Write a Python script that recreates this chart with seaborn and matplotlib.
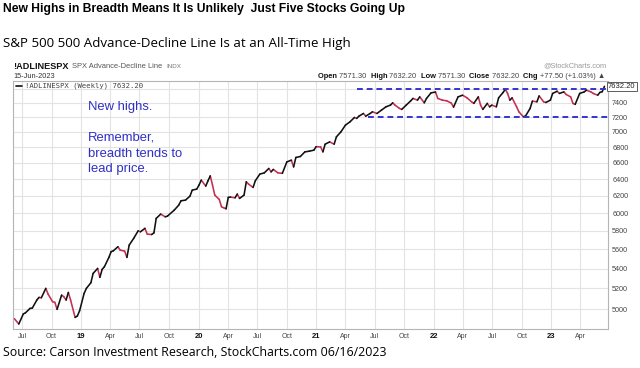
import numpy as np
import pandas as pd
import matplotlib
matplotlib.use('Agg')
import matplotlib.pyplot as plt
from matplotlib.lines import Line2D
from matplotlib.ticker import FixedLocator, NullLocator
import seaborn as sns

# Weekly !ADLINESPX readings: week number counted from the first bar, and the line value
start_date = '2018-06-07'
weeks = [0, 2, 4, 5, 7, 8, 10, 11, 12, 14,
         15, 17, 18, 19, 21, 22, 23, 24, 25, 27,
         28, 29, 31, 32, 34, 35, 37, 38, 39, 40,
         42, 43, 44, 46, 47, 49, 50, 51, 53, 55,
         56, 58, 59, 61, 62, 63, 65, 67, 68, 71,
         73, 74, 76, 78, 79, 81, 82, 83, 85, 86,
         87, 88, 89, 91, 92, 93, 94, 95, 96, 98,
         99, 100, 102, 103, 104, 106, 107, 109, 111, 113,
         114, 115, 117, 119, 121, 123, 124, 125, 127, 129,
         131, 133, 134, 136, 137, 138, 140, 142, 143, 145,
         147, 149, 151, 152, 153, 155, 156, 158, 159, 161,
         163, 165, 167, 168, 169, 171, 172, 174, 176, 177,
         179, 180, 182, 183, 185, 187, 188, 190, 192, 194,
         195, 197, 199, 201, 203, 204, 206, 207, 208, 210,
         211, 212, 214, 215, 217, 218, 219, 220, 221, 223,
         224, 226, 227, 229, 230, 232, 233, 235, 236, 238,
         239, 241, 242, 244, 245, 247, 248, 249, 251, 253,
         254, 256, 257, 259, 260, 261, 262]
values = [4910, 4860, 4953, 4965, 5006, 5009, 5086, 5112, 5108, 5200,
          5144, 5070, 5064, 4997, 5134, 5118, 5086, 5160, 5086, 4921,
          4934, 4984, 5151, 5200, 5256, 5350, 5401, 5310, 5391, 5418,
          5515, 5576, 5585, 5628, 5592, 5581, 5515, 5645, 5718, 5801,
          5790, 5828, 5765, 5760, 5779, 5939, 5988, 5957, 5965, 6033,
          6091, 6141, 6149, 6196, 6267, 6279, 6327, 6387, 6315, 6379,
          6439, 6327, 6208, 6157, 6071, 6060, 6048, 6181, 6185, 6176,
          6220, 6169, 6208, 6367, 6339, 6299, 6379, 6460, 6476, 6530,
          6488, 6518, 6476, 6470, 6612, 6634, 6549, 6668, 6680, 6739,
          6748, 6761, 6806, 6803, 6739, 6838, 6868, 6838, 6934, 7000,
          7090, 7134, 7194, 7181, 7212, 7249, 7212, 7249, 7272, 7249,
          7295, 7341, 7365, 7397, 7365, 7319, 7305, 7365, 7425, 7459,
          7435, 7481, 7397, 7459, 7538, 7550, 7459, 7435, 7425, 7393,
          7337, 7481, 7505, 7467, 7411, 7389, 7481, 7365, 7305, 7389,
          7341, 7365, 7341, 7467, 7544, 7591, 7530, 7435, 7467, 7341,
          7272, 7203, 7216, 7319, 7421, 7411, 7495, 7411, 7402, 7435,
          7530, 7562, 7530, 7552, 7515, 7481, 7389, 7375, 7530, 7552,
          7577, 7552, 7530, 7505, 7545, 7554.7, 7632.2]

last_value = 7632.20
y_ticks = [5000, 5200, 5400, 5600, 5800, 6000, 6200, 6400, 6600, 6800, 7000, 7200, 7400, 7600]
band_top, band_top_from = 7590, '2021-05-06'
band_bottom, band_bottom_from = 7200, '2021-06-10'

title = 'New Highs in Breadth Means It Is Unlikely  Just Five Stocks Going Up'
subtitle = 'S&P 500 500 Advance-Decline Line Is at an All-Time High'
source = 'Source: Carson Investment Research, StockCharts.com 06/16/2023'
note_lines = ['New highs.', 'Remember,', 'breadth tends to', 'lead price.']
quote = [('Open ', 'bold'), ('7571.30  ', 'normal'), ('High ', 'bold'), ('7632.20  ', 'normal'),
         ('Low ', 'bold'), ('7571.30  ', 'normal'), ('Close ', 'bold'), ('7632.20  ', 'normal'),
         ('Chg ', 'bold'), ('+77.50 (+1.03%) \u25b2', 'normal')]

W, H = 640, 368
UP, DOWN, BLUE = '#111111', '#c4304f', '#2f2fc6'

sns.set_theme(style='white')
plt.rcParams['font.family'] = ['Liberation Sans', 'DejaVu Sans']

df = pd.DataFrame({'date': pd.Timestamp(start_date) + pd.to_timedelta(np.array(weeks) * 7, unit='D'),
                   'value': values})

# split into 2-point segments coloured by weekly direction (StockCharts style)
rows = []
for i in range(len(df) - 1):
    d = 'up' if df.value[i + 1] > df.value[i] else 'down'
    for j in (i, i + 1):
        rows.append({'seg': i, 'date': df.date[j], 'value': df.value[j], 'dir': d})
segs = pd.DataFrame(rows)

fig = plt.figure(figsize=(W / 100, H / 100), dpi=100)
ax = fig.add_axes([13 / W, 1 - 329 / H, (608 - 13) / W, (329 - 81) / H])

sns.lineplot(data=segs, x='date', y='value', hue='dir', units='seg', estimator=None,
             palette={'up': UP, 'down': DOWN}, lw=1.15, legend=False, ax=ax,
             solid_capstyle='round')

x_left, x_right = pd.Timestamp('2018-06-03'), pd.Timestamp('2023-06-26')
ax.set_yscale('log')
ax.set_ylim(4814, 7710)
ax.set_xlim(x_left, x_right)

ax.hlines(band_top, pd.Timestamp(band_top_from), x_right, colors='#3535d0', lw=1.4,
          linestyles=(0, (3, 2)), zorder=5)
ax.hlines(band_bottom, pd.Timestamp(band_bottom_from), x_right, colors='#3535d0', lw=1.4,
          linestyles=(0, (3, 2)), zorder=5)

# axes cosmetics
ax.yaxis.tick_right()
ax.yaxis.set_major_locator(FixedLocator(y_ticks))
ax.yaxis.set_minor_locator(NullLocator())
ax.set_yticklabels([str(t) if t != 7600 else '' for t in y_ticks])
ax.tick_params(axis='y', length=0, pad=3, labelsize=5.2, labelcolor='#444444')

q_ticks = pd.date_range('2018-07-01', '2023-04-01', freq='QS')
q_labels = [d.strftime('%y') if d.month == 1 else d.strftime('%b') for d in q_ticks]
ax.set_xticks(q_ticks)
ax.set_xticklabels(q_labels)
ax.tick_params(axis='x', length=0, pad=3, labelsize=5, labelcolor='#444444')
for lbl, d in zip(ax.get_xticklabels(), q_ticks):
    if d.month == 1:
        lbl.set_fontweight('bold')
        lbl.set_color('#111111')
        lbl.set_fontsize(5.5)
ax.set_xlabel('')
ax.set_ylabel('')
ax.grid(True, color='#e3e3e3', lw=0.8)
for s in ax.spines.values():
    s.set_color('#b5b5b5')
    s.set_linewidth(0.8)

ax.annotate(f'{last_value:.2f}', xy=(1, last_value), xycoords=('axes fraction', 'data'),
            xytext=(0, 0), textcoords='offset points', ha='left', va='center',
            fontsize=5.5, color='#222222',
            bbox=dict(boxstyle='square,pad=0.15', fc='white', ec='#444444', lw=0.6),
            annotation_clip=False, zorder=6)


def fy(y):
    return 1 - y / H


# headings
fig.text(3 / W, fy(9), title, fontsize=8.7, fontweight='bold', color='black', va='center')
fig.text(3 / W, fy(44), subtitle, fontsize=9.6, family=['Open Sans', 'DejaVu Sans'],
         color='black', va='center')
fig.text(3 / W, fy(352), source, fontsize=8.9, family=['Open Sans', 'DejaVu Sans'],
         color='black', va='center')

# StockCharts header
fig.text(13 / W, fy(66.5), '!ADLINESPX', fontsize=6.6, fontweight='bold', color='#111111', va='center')
fig.text(72 / W, fy(66.5), 'SPX Advance-Decline Line', fontsize=5.4, color='#555555', va='center')
fig.text(166 / W, fy(66.5), 'INDX', fontsize=4.5, color='#777777', va='center')
fig.text(13 / W, fy(76), '15-Jun-2023', fontsize=5.3, color='#333333', va='center')
fig.text(607 / W, fy(66), '@StockCharts.com', fontsize=5.3, color='#999999', va='center', ha='right')

renderer = fig.canvas.get_renderer()
pieces = []
for s, w in quote:
    pieces.append(fig.text(0, fy(76.5), s, fontsize=5.45, fontweight=w,
                           color='#111111' if w == 'bold' else '#444444', va='center'))
widths = [t.get_window_extent(renderer).width for t in pieces]
x = 605 - sum(widths)
for t, wdt in zip(pieces, widths):
    t.set_x(x / W)
    x += wdt

# in-chart legend
fig.add_artist(Line2D([16 / W, 22 / W], [fy(86), fy(86)], color='#111111', lw=1.2))
fig.text(25 / W, fy(86), '!ADLINESPX (Weekly) 7632.20', fontsize=5.2,
         family=['DejaVu Sans Mono'], color='#444444', va='center')

# blue commentary
for txt, yy in zip(note_lines, [107, 138, 153.5, 169]):
    fig.text(88 / W, fy(yy), txt, fontsize=9.4, color=BLUE, va='center')

fig.savefig('out.png', dpi=100)
